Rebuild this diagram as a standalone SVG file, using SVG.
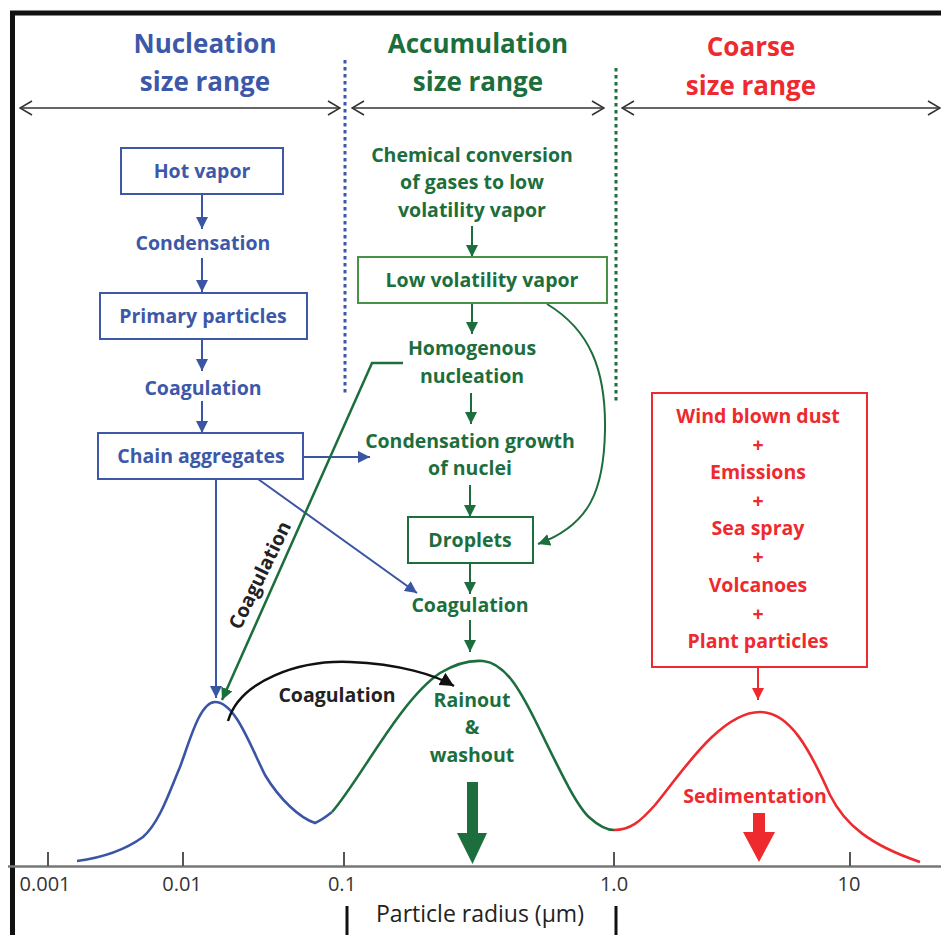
<svg xmlns="http://www.w3.org/2000/svg" width="941" height="935" viewBox="0 0 941 935">
<style>
text{font-family:"Open Sans","Liberation Sans",sans-serif;font-weight:bold;text-anchor:middle}
.bl{fill:#3d58a8}.gr{fill:#1c6e3d}.rd{fill:#ee2a2e}.bk{fill:#222}
.h{font-size:26px}.n{font-size:19.5px}.ax{font-weight:normal;font-size:20px;fill:#333}
.bbox{fill:#fff;stroke:#3d58a8;stroke-width:2}
.gbox{fill:#fff;stroke:#4a9148;stroke-width:2}
.rbox{fill:#fff;stroke:#ee2a2e;stroke-width:2}
.lb{stroke:#3b55a5;stroke-width:2;fill:none}
.lg{stroke:#1c6e3d;stroke-width:2;fill:none}
.lr{stroke:#ee2a2e;stroke-width:2;fill:none}
.cv{stroke-width:2.6}
.rng{stroke:#333;stroke-width:1.6;fill:none}
</style>
<defs>
<marker id="ab" viewBox="0 0 12 12" refX="12" refY="6" markerWidth="12" markerHeight="12" markerUnits="userSpaceOnUse" orient="auto"><path d="M0,0 L12,6 L0,12 z" fill="#3b55a5"/></marker>
<marker id="ag" viewBox="0 0 12 12" refX="12" refY="6" markerWidth="12" markerHeight="12" markerUnits="userSpaceOnUse" orient="auto"><path d="M0,0 L12,6 L0,12 z" fill="#1c6e3d"/></marker>
<marker id="ar" viewBox="0 0 12 12" refX="12" refY="6" markerWidth="12" markerHeight="12" markerUnits="userSpaceOnUse" orient="auto"><path d="M0,0 L12,6 L0,12 z" fill="#ee2a2e"/></marker>
<marker id="ak" viewBox="0 0 14 14" refX="14" refY="7" markerWidth="14" markerHeight="14" markerUnits="userSpaceOnUse" orient="auto"><path d="M0,0 L14,7 L0,14 z" fill="#111"/></marker>
<marker id="ch" viewBox="0 0 14 16" refX="13" refY="8" markerWidth="14" markerHeight="16" markerUnits="userSpaceOnUse" orient="auto-start-reverse"><path d="M1,1 L13,8 L1,15" fill="none" stroke="#333" stroke-width="1.6"/></marker>
</defs>

<g id="frame">
<path d="M12.5,935 L12.5,13 L941,13" fill="none" stroke="#111" stroke-width="5"/>
<line x1="8" y1="866.5" x2="941" y2="866.5" stroke="#777" stroke-width="2.5"/>
<g stroke="#555" stroke-width="2">
<line x1="48" y1="852" x2="48" y2="866"/>
<line x1="183" y1="852" x2="183" y2="866"/>
<line x1="344" y1="852" x2="344" y2="866"/>
<line x1="614" y1="852" x2="614" y2="866"/>
<line x1="850" y1="852" x2="850" y2="866"/>
</g>
<text class="ax" x="45" y="891">0.001</text>
<text class="ax" x="182" y="891">0.01</text>
<text class="ax" x="342" y="891">0.1</text>
<text class="ax" x="614" y="891">1.0</text>
<text class="ax" x="849" y="891">10</text>
<line x1="347" y1="906" x2="347" y2="935" stroke="#111" stroke-width="3"/>
<line x1="616" y1="906" x2="616" y2="935" stroke="#111" stroke-width="3"/>
<text class="ax" x="480" y="922" style="font-size:23px;fill:#222">Particle radius (µm)</text>
</g>

<g id="headers">
<text class="h bl" x="205" y="53">Nucleation</text>
<text class="h bl" x="205" y="91">size range</text>
<text class="h gr" x="478" y="53">Accumulation</text>
<text class="h gr" x="478" y="91">size range</text>
<text class="h rd" x="751" y="56">Coarse</text>
<text class="h rd" x="751" y="95">size range</text>
<line x1="345" y1="60" x2="345" y2="396" stroke="#3d58a8" stroke-width="3" stroke-dasharray="3.5 3.5"/>
<line x1="616" y1="68" x2="616" y2="404" stroke="#1c6e3d" stroke-width="3" stroke-dasharray="3.5 3.5"/>
<line class="rng" x1="20" y1="108" x2="340" y2="108" marker-start="url(#ch)" marker-end="url(#ch)"/>
<line class="rng" x1="352" y1="108" x2="604" y2="108" marker-start="url(#ch)" marker-end="url(#ch)"/>
<line class="rng" x1="622" y1="108" x2="940" y2="108" marker-start="url(#ch)" marker-end="url(#ch)"/>
</g>

<g id="curves">
<path class="lb cv" d="M77,861 C100,858 125,850 143,837 C160,822 170,790 180,767 C190,740 200,702 215,702 C235,702 250,745 265,775 C280,800 300,818 315,823 C322,820 327,816 332,812"/>
<path class="lg cv" d="M332,812 C360,780 400,700 440,673 C455,664 470,660 483,661 C505,663 520,690 535,720 C555,760 575,805 590,818 C600,827 607,830 614,830"/>
<path class="lr cv" d="M614,830 C630,830 640,822 655,805 C680,775 720,712 760,712 C790,712 810,750 830,795 C845,825 870,845 920,862"/>
</g>

<g id="connectors">
<line class="lb" x1="202" y1="194" x2="202" y2="229" marker-end="url(#ab)"/>
<line class="lb" x1="202" y1="258" x2="202" y2="292" marker-end="url(#ab)"/>
<line class="lb" x1="202" y1="339" x2="202" y2="371" marker-end="url(#ab)"/>
<line class="lb" x1="202" y1="401" x2="202" y2="433" marker-end="url(#ab)"/>
<line class="lb" x1="303" y1="457" x2="370" y2="457" marker-end="url(#ab)"/>
<line class="lb" x1="216" y1="479" x2="216" y2="698" marker-end="url(#ab)"/>
<line class="lb" x1="258" y1="479" x2="417" y2="593" marker-end="url(#ab)"/>
<line class="lg" x1="472" y1="226" x2="472" y2="257" marker-end="url(#ag)"/>
<line class="lg" x1="472" y1="303" x2="472" y2="334" marker-end="url(#ag)"/>
<line class="lg" x1="471" y1="393" x2="471" y2="424" marker-end="url(#ag)"/>
<line class="lg" x1="470" y1="485" x2="470" y2="517" marker-end="url(#ag)"/>
<line class="lg" x1="470" y1="563" x2="470" y2="594" marker-end="url(#ag)"/>
<line class="lg" x1="470" y1="620" x2="470" y2="652" marker-end="url(#ag)"/>
<path class="lg" d="M547,304 C590,330 606,370 605,430 C604,490 590,525 538,544" marker-end="url(#ag)"/>
<path class="lg" d="M403,363 L372,363 L222,700" style="stroke-width:2.5" marker-end="url(#ag)"/>
<path d="M228,721 C240,680 300,660 350,662 C400,664 435,675 454,686" fill="none" stroke="#111" stroke-width="2.5" marker-end="url(#ak)"/>
<line class="lr" x1="758" y1="667" x2="758" y2="700" marker-end="url(#ar)"/>
<path d="M467,782 L478,782 L478,833 L487,833 L472.5,864 L457,833 L467,833 z" fill="#1c6e3d"/>
<path d="M753,813 L765,813 L765,832 L775,832 L759,862 L743,832 L753,832 z" fill="#ee2a2e"/>
</g>

<g id="n-hot-vapor"><rect class="bbox" x="121" y="148" width="162" height="46"/><text class="n bl" x="202" y="178">Hot vapor</text></g>
<g id="n-condensation"><text class="n bl" x="203" y="250">Condensation</text></g>
<g id="n-primary"><rect class="bbox" x="100" y="293" width="207" height="46"/><text class="n bl" x="203" y="323">Primary particles</text></g>
<g id="n-coag1"><text class="n bl" x="203" y="395">Coagulation</text></g>
<g id="n-chain"><rect class="bbox" x="98" y="433" width="205" height="46"/><text class="n bl" x="201" y="463">Chain aggregates</text></g>

<g id="n-chem"><text class="n gr" x="472" y="162">Chemical conversion</text><text class="n gr" x="472" y="189">of gases to low</text><text class="n gr" x="472" y="217">volatility vapor</text></g>
<g id="n-lowvol"><rect class="gbox" x="358" y="257" width="249" height="46"/><text class="n gr" x="482" y="287">Low volatility vapor</text></g>
<g id="n-homog"><text class="n gr" x="472" y="355">Homogenous</text><text class="n gr" x="472" y="383">nucleation</text></g>
<g id="n-condgrowth"><text class="n gr" x="470" y="448">Condensation growth</text><text class="n gr" x="470" y="475">of nuclei</text></g>
<g id="n-droplets"><rect class="gbox" x="408" y="517" width="125" height="46" style="stroke:#1c6e3d"/><text class="n gr" x="470" y="547">Droplets</text></g>
<g id="n-coag2"><text class="n gr" x="470" y="612">Coagulation</text></g>
<g id="n-rainout"><text class="n gr" x="472" y="707">Rainout</text><text class="n gr" x="472" y="734">&amp;</text><text class="n gr" x="472" y="762">washout</text></g>

<g id="n-coag-diag"><text class="n bk" x="0" y="0" transform="translate(266,578) rotate(-64)">Coagulation</text></g>
<g id="n-coag-arc"><text class="n bk" x="337" y="702">Coagulation</text></g>

<g id="n-sources"><rect class="rbox" x="652" y="393" width="215" height="274"/>
<text class="n rd" x="758" y="423">Wind blown dust</text>
<text class="n rd" x="758" y="452">+</text>
<text class="n rd" x="758" y="479">Emissions</text>
<text class="n rd" x="758" y="508">+</text>
<text class="n rd" x="758" y="535">Sea spray</text>
<text class="n rd" x="758" y="564">+</text>
<text class="n rd" x="758" y="592">Volcanoes</text>
<text class="n rd" x="758" y="621">+</text>
<text class="n rd" x="758" y="648">Plant particles</text>
</g>
<g id="n-sedimentation"><text class="n rd" x="755" y="803">Sedimentation</text></g>
</svg>
